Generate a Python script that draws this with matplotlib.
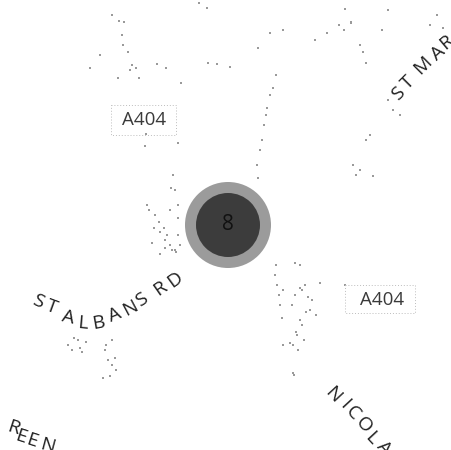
import matplotlib
matplotlib.use("Agg")
import matplotlib.pyplot as plt
from matplotlib.patches import Circle, Rectangle

W, H = 451, 450
cluster_x = [228]
cluster_y = [225]
cluster_label = ["8"]
outer_radius = [43]
inner_radius = [32]

road_labels = {
    "st_albans": (list("STALBANSRD"),
        [38, 52, 68, 83, 98, 115, 130, 142, 160, 175],
        [302, 307, 318, 323, 323, 315, 308, 300, 288, 280],
        [-24, -20, -13, -5, 10, 22, 28, 34, 35, 36]),
    "st_mar": (list("STMAR"),
        [398, 408, 423, 438, 447],
        [94, 83, 65, 53, 42],
        [45, 45, 45, 42, 40]),
    "nicol": (list("NICOLA"),
        [333, 345, 353, 364, 371, 384],
        [395, 405, 413, 425, 438, 448],
        [-47, -47, -47, -47, -47, -47]),
    "green": (list("REEN"),
        [13, 21, 32, 47],
        [428, 437, 441, 446],
        [-18, -18, -18, -15]),
}
shield_labels = ["A404", "A404"]
shield_x = [144, 382]
shield_y = [120, 300]
shield_box = [(111, 105, 65, 30), (345, 285, 70, 28)]

speck_x = [112, 119, 124, 122, 123, 128, 132, 136, 130, 139, 118, 100, 157, 90, 207, 199, 166, 181, 208, 217, 230, 258, 270, 283, 315, 327, 339, 344, 351, 345, 351, 363, 366, 360, 382, 388, 443, 437, 430, 276, 273, 270, 267, 266, 264, 262, 260, 257, 258, 388, 393, 400, 370, 366, 353, 360, 356, 373, 146, 145, 178, 173, 171, 175, 178, 147, 149, 155, 159, 160, 165, 170, 175, 178, 154, 152, 164, 167, 172, 180, 176, 165, 160, 178, 170, 68, 72, 78, 82, 86, 80, 74, 105, 108, 112, 116, 103, 110, 115, 106, 112, 300, 295, 292, 302, 308, 310, 300, 296, 305, 312, 316, 293, 297, 302, 306, 298, 304, 276, 275, 277, 279, 280, 282, 283, 290, 293, 294, 283, 300, 295, 320, 345]
speck_y = [15, 21, 22, 35, 45, 52, 65, 68, 70, 78, 78, 55, 64, 68, 8, 3, 68, 83, 63, 64, 67, 48, 33, 30, 40, 33, 25, 30, 23, 9, 22, 52, 63, 45, 30, 10, 28, 15, 25, 75, 88, 95, 108, 115, 125, 140, 150, 165, 178, 100, 110, 115, 135, 140, 165, 170, 175, 176, 134, 146, 143, 175, 188, 190, 205, 205, 210, 215, 222, 232, 240, 245, 250, 235, 228, 243, 228, 235, 250, 245, 252, 248, 254, 218, 210, 345, 350, 340, 352, 342, 348, 338, 350, 360, 365, 370, 378, 376, 358, 345, 340, 288, 295, 305, 290, 297, 310, 320, 332, 285, 300, 315, 345, 335, 325, 312, 350, 340, 265, 275, 285, 295, 305, 318, 345, 343, 373, 375, 290, 265, 263, 283, 285]

plt.rcParams["font.family"] = ["Open Sans", "DejaVu Sans"]
fig = plt.figure(figsize=(W / 100, H / 100), dpi=100)
ax = fig.add_axes([0, 0, 1, 1])
ax.set_xlim(0, W)
ax.set_ylim(H, 0)
ax.axis("off")

ax.scatter(speck_x, speck_y, s=1.0, c="#9a9a9a", marker="s", linewidths=0, zorder=1)
for x, y, w, h in shield_box:
    ax.add_patch(Rectangle((x, y), w, h, fill=False, ec="#bdbdbd", lw=0.7, ls=(0, (1, 2)), zorder=1))

for x, y, ro, ri, lab in zip(cluster_x, cluster_y, outer_radius, inner_radius, cluster_label):
    ax.add_patch(Circle((x, y), ro, fc="#9b9b9b", ec="none", zorder=2))
    ax.add_patch(Circle((x, y), ri, fc="#3c3c3c", ec="none", zorder=3))
    ax.text(x, y, lab, ha="center", va="center", fontsize=15, color="#111111", zorder=4)

clip = Rectangle((9, 0), 432, 445, transform=ax.transData)
for letters, xs, ys, rots in road_labels.values():
    for c, x, y, r in zip(letters, xs, ys, rots):
        t = ax.text(x, y, c, ha="center", va="center", rotation=r, rotation_mode="anchor",
                    fontsize=14, color="#222222", zorder=5)
        t.set_clip_path(clip)
for s, x, y in zip(shield_labels, shield_x, shield_y):
    ax.text(x, y, s, ha="center", va="center", fontsize=13.5, color="#3a3a3a", zorder=5)

fig.savefig("out.png", dpi=100)
